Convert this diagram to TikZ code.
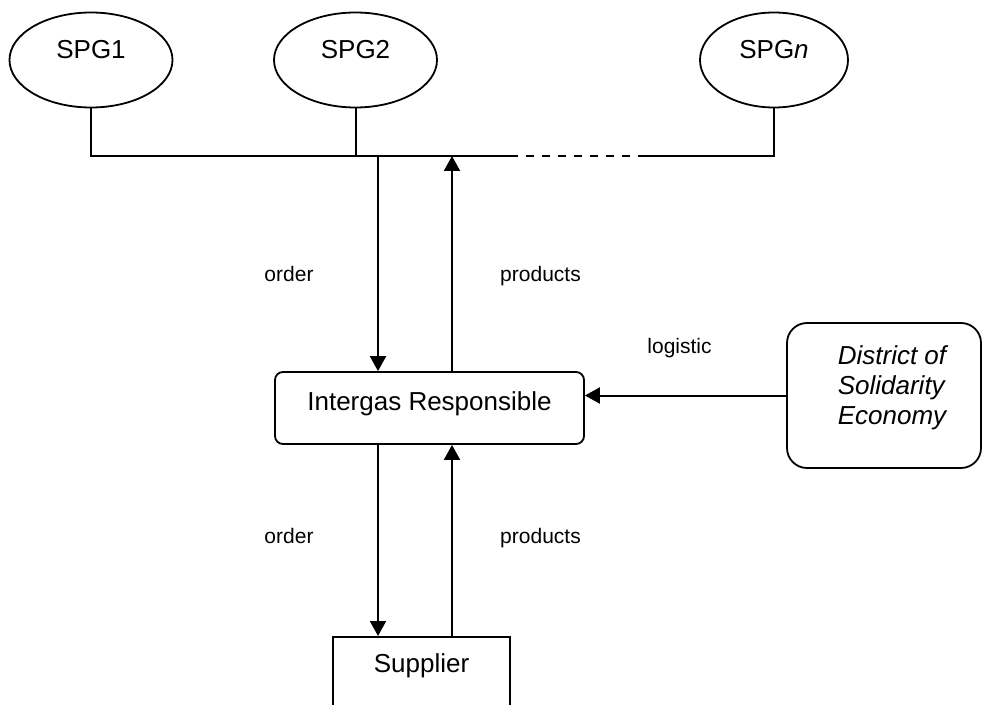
\documentclass[tikz,border=0pt]{standalone}
\usepackage{fontspec}
\setmainfont{Liberation Sans}
\usetikzlibrary{arrows.meta, positioning, shapes.geometric}

\begin{document}
\begin{tikzpicture}[
    x=0.5pt, y=-0.5pt,
    every node/.style={font=\fontsize{13}{15}\selectfont},
    group/.style={ellipse, draw, line width=0.9pt, minimum width=81.5pt, minimum height=47.5pt, inner sep=0pt, text height=9.5pt, text depth=10.5pt},
    box/.style={rectangle, draw, line width=0.9pt, align=center},
    lbl/.style={font=\fontsize{10.5}{12}\selectfont, anchor=base},
    link/.style={line width=1pt},
    arrow/.style={-{Triangle[length=7.5pt, width=8pt]}, line width=1pt}
]
\path[use as bounding box] (0,0) rectangle (983,705);

% SPG groups
\node[group] (spg1) at (91,60) {SPG1};
\node[group] (spg2) at (355.5,60) {SPG2};
\node[group, minimum width=74pt] (spgn) at (774,60) {SPG\textit{n}};

\node[box, rounded corners=4pt, minimum width=154.5pt, minimum height=36pt, text height=9.5pt, text depth=7.5pt] (resp) at (429.5,408) {Intergas Responsible};
\node[box, rounded corners=10pt, minimum width=97pt, minimum height=72.5pt] (dist) at (884,395.5) {};
\node[align=left, font=\fontsize{13}{15}\selectfont\itshape] (disttext) at (892,388) {District of\\Solidarity\\Economy};
\node[box, anchor=north, minimum width=88.5pt, inner ysep=8.5pt, text height=9.5pt, text depth=30pt] (sup) at (421.5,636) {Supplier};

% bus line
\coordinate (busy) at (0,156);
\coordinate (dashL) at (510,156);
\coordinate (dashR) at (642,156);
\draw[link] (spg1.south) -- (spg1.south |- busy) -- (dashL);
\draw[link] (spg2.south) -- (spg2.south |- busy);
\draw[link, dash pattern=on 4pt off 4pt] (dashL) -- (dashR);
\draw[link] (dashR) -- (spgn.south |- busy) -- (spgn.south);

% flows
\coordinate (ordx) at (378,156);
\coordinate (prodx) at (452,156);
\draw[arrow] (ordx) -- (ordx |- resp.north);
\draw[arrow] (prodx |- resp.north) -- (prodx);
\draw[arrow] (ordx |- resp.south) -- (ordx |- sup.north);
\draw[arrow] (prodx |- sup.north) -- (prodx |- resp.south);
\draw[arrow] (dist.west) -- (dist.west -| resp.east);

\node[lbl] (ord1) at (289,282) {order};
\node[lbl] (prod1) at (540.5,282) {products};
\node[lbl] (log) at (679.5,353) {logistic};
\node[lbl] (ord2) at (289,543) {order};
\node[lbl] (prod2) at (540.5,543) {products};
\end{tikzpicture}
\end{document}
